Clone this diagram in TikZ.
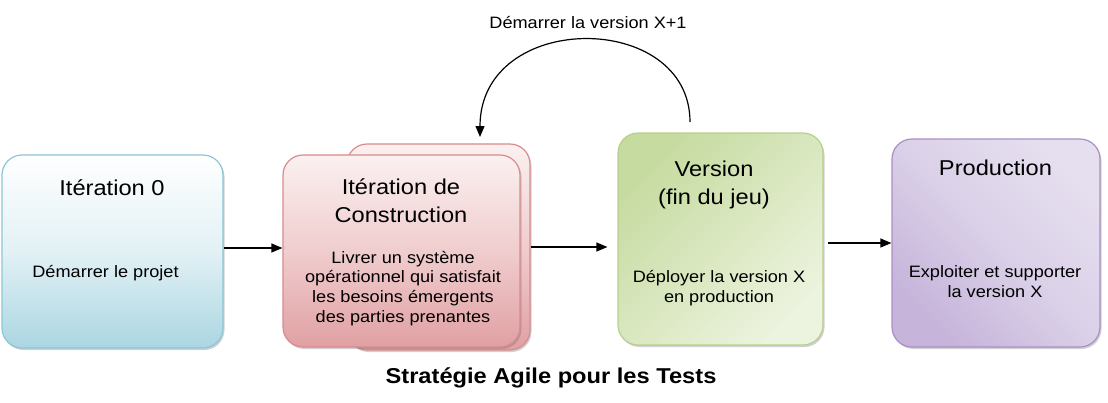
\documentclass[tikz,border=0pt]{standalone}
\usepackage{fontspec}
\setmainfont{Liberation Sans}[FakeStretch=1.1]
\usetikzlibrary{arrows.meta,shadows}
\definecolor{cAbd}{HTML}{8DC5D5}
\definecolor{cAbot}{HTML}{ABD6E2}
\definecolor{cAmid}{HTML}{E2F1F5}
\definecolor{cBbd}{HTML}{D98B8D}
\definecolor{cBtop}{HTML}{FBF0F0}
\definecolor{cBmid}{HTML}{F0CDCE}
\definecolor{cBbot}{HTML}{E0A0A3}
\definecolor{cCbd}{HTML}{B6D08C}
\definecolor{cCa}{HTML}{C6DBA0}
\definecolor{cCb}{HTML}{ECF3DE}
\definecolor{cDbd}{HTML}{A98FC6}
\definecolor{cDa}{HTML}{E6DFEF}
\definecolor{cDm}{HTML}{DAD0E8}
\definecolor{cDb}{HTML}{C6B4DA}
\begin{document}
\begin{tikzpicture}[x=1pt,y=-1pt,
  box/.style={draw, line width=1.2pt, rounded corners=20pt, inner sep=0pt,
    drop shadow={shadow xshift=1.5pt, shadow yshift=-2pt, opacity=0.3, fill=black!60}},
  hdr/.style={font=\fontsize{21.5}{28}\selectfont, align=center, anchor=base, inner sep=0pt},
  bodytxt/.style={font=\fontsize{16.5}{19.8}\selectfont, align=center, anchor=base, inner sep=0pt},
  arr/.style={-{Triangle[length=11pt,width=9pt]}, line width=1.2pt}]
\useasboundingbox (0,0) rectangle (1108,402);

% boxes
\node[box, minimum width=221pt, minimum height=193pt, draw=cAbd,
      top color=white, bottom color=cAbot, middle color=cAmid] (b1) at (112.5,251.5) {};
\node[box, minimum width=183pt, minimum height=206pt, draw=cBbd,
      top color=cBtop, bottom color=cBbot, middle color=cBmid] (b2b) at (438.5,247) {};
\node[box, minimum width=237pt, minimum height=192pt, draw=cBbd,
      top color=cBtop, bottom color=cBbot, middle color=cBmid] (b2) at (401.5,251) {};
\node[box, minimum width=205pt, minimum height=212pt, draw=cCbd,
      top color=cCa, bottom color=cCb, shading angle=45] (b3) at (720.5,239) {};
\node[box, minimum width=208pt, minimum height=208pt, draw=cDbd,
      top color=cDa, bottom color=cDb, middle color=cDm, shading angle=-45] (b4) at (996,243) {};

% texts (base anchor = baseline of the last line)
\node[hdr] (t1h) at (112,195) {Itération 0};
\node[bodytxt] (t1b) at (105.5,277) {Démarrer le projet};
\node[hdr] (t2h) at (401,222.5) {Itération de\\Construction};
\node[bodytxt] (t2b) at (403,322.5) {Livrer un système\\opérationnel qui satisfait\\les besoins émergents\\des parties prenantes};
\node[hdr] (t3h) at (714,204) {Version\\(fin du jeu)};
\node[bodytxt] (t3b) at (719,302) {Déployer la version X\\en production};
\node[hdr] (t4h) at (995.5,175) {Production};
\node[bodytxt] (t4b) at (995,297) {Exploiter et supporter\\la version X};

\node[bodytxt] (loopl) at (588,28) {Démarrer la version X+1};
\node[font=\fontsize{21.5}{26}\selectfont\bfseries, anchor=base, inner sep=0pt] (title) at (551,383) {Stratégie Agile pour les Tests};

% connectors
\draw[arr] ([yshift=3.5pt]b1.east) -- ([yshift=3.5pt]b1.east -| b2.west);
\draw[arr] (b2b.east) -- ([xshift=-10pt]b2b.east -| b3.west);
\draw[arr, shorten <=4pt] (b4.west -| b3.east) -- (b4.west);
\coordinate (ls) at (690,122);
\coordinate (le) at (480,137);
\draw[arr] (ls) .. controls (690,10) and (480,10) .. (le);
\end{tikzpicture}
\end{document}
